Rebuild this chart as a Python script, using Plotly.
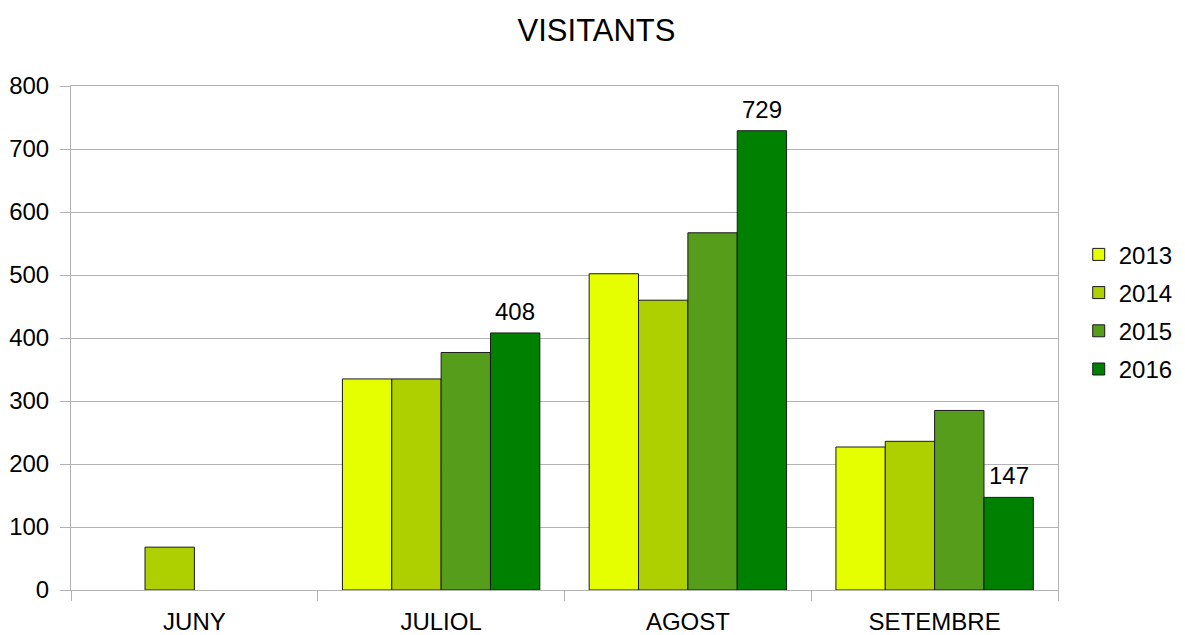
import plotly.graph_objects as go

categories = ["JUNY", "JULIOL", "AGOST", "SETEMBRE"]
years = ["2013", "2014", "2015", "2016"]
v2013 = [None, 335, 502, 227]
v2014 = [68, 335, 460, 236]
v2015 = [None, 377, 567, 285]
v2016 = [None, 408, 729, 147]
colors = ["#e6ff00", "#aecf00", "#579d1c", "#008000"]
series = [v2013, v2014, v2015, v2016]

FONT = "Liberation Sans, Arial, sans-serif"
W, H = 1177, 627
M = dict(l=63, r=127, t=78, b=45)
BARGAP = 0.2

fig = go.Figure()
for name, vals, col in zip(years, series, colors):
    fig.add_trace(go.Bar(
        x=categories, y=vals, name=name, legendgroup=name,
        marker=dict(color=col, line=dict(color="#1a1a1a", width=1))))

# value labels above the 2016 bars
plot_w = W - M["l"] - M["r"]
bar_w = plot_w / len(categories) * (1 - BARGAP) / len(years)
idx = years.index("2016")
x_off = (idx - (len(years) - 1) / 2) * bar_w
for cat, v in zip(categories, v2016):
    if v is None:
        continue
    fig.add_annotation(x=cat, y=v, xref="x", yref="y", text=str(v),
                       showarrow=False, xanchor="center", yanchor="bottom",
                       xshift=x_off, yshift=6,
                       font=dict(family=FONT, size=24, color="black"))

fig.update_layout(
    width=W, height=H,
    barmode="group", bargap=BARGAP, bargroupgap=0,
    paper_bgcolor="white", plot_bgcolor="white",
    margin=dict(**M, autoexpand=False),
    title=dict(text="VISITANTS", x=0.5, xanchor="center", y=0.965, yanchor="middle",
               font=dict(family=FONT, size=31, color="black")),
    font=dict(family=FONT, size=24, color="black"),
    legend=dict(x=1.021, xanchor="left", y=0.552, yanchor="middle",
                font=dict(family=FONT, size=24, color="black"),
                itemwidth=30, tracegroupgap=4),
)
fig.update_xaxes(
    type="category", tickson="boundaries", ticks="outside", ticklen=10,
    tickcolor="#b3b3b3", showgrid=False, showline=True, linecolor="#b3b3b3",
    linewidth=1, mirror=True, automargin=False, ticklabelstandoff=10,
    tickfont=dict(family=FONT, size=24, color="black"),
)
fig.update_yaxes(
    range=[0, 800], dtick=100, ticks="outside", ticklen=10, tickcolor="#b3b3b3",
    showgrid=True, gridcolor="#b3b3b3", gridwidth=1,
    showline=True, linecolor="#b3b3b3", linewidth=1, mirror=True,
    zeroline=False, automargin=False, ticklabelstandoff=6,
    tickfont=dict(family=FONT, size=24, color="black"),
)

fig.write_html("out.html")
